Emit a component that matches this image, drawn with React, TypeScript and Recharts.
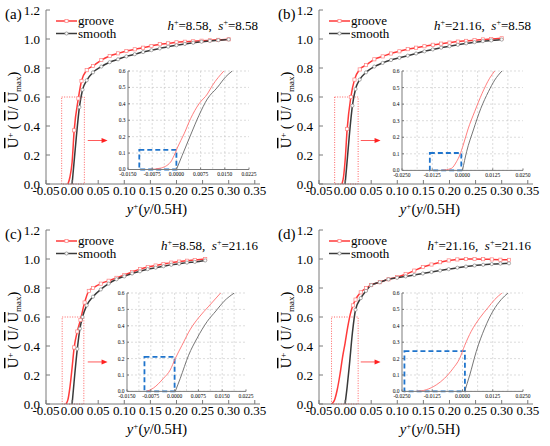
import React from "react";
import {
  LineChart,
  Line,
  XAxis,
  YAxis,
  CartesianGrid,
  ReferenceArea,
  ReferenceLine,
  Legend,
} from "recharts";

const SERIF = "'Liberation Serif', 'Times New Roman', Times, 'DejaVu Serif', serif";

// ticks
const MAIN_X_TICKS = [-0.05, 0, 0.05, 0.1, 0.15, 0.2, 0.25, 0.3, 0.35];
const MAIN_Y_TICKS = [0, 0.2, 0.4, 0.6, 0.8, 1.0, 1.2];
const INSET_Y_TICKS = [0, 0.1, 0.2, 0.3, 0.4, 0.5, 0.6];
const INSET_X_TICKS_NARROW = [-0.015, -0.0075, 0, 0.0075, 0.015, 0.0225];
const INSET_X_TICKS_WIDE = [-0.025, -0.0125, 0, 0.0125, 0.025];
const INSET_GRID_NARROW = [-0.01125, -0.0075, -0.00375, 0, 0.00375, 0.0075, 0.01125, 0.015, 0.01875];
const INSET_GRID_WIDE = [-0.01875, -0.0125, -0.00625, 0, 0.00625, 0.0125, 0.01875];

const PANEL_LABELS = ["(a)", "(b)", "(c)", "(d)"];
const H_PLUS = ["8.58", "21.16", "8.58", "21.16"];
const S_PLUS = ["8.58", "8.58", "21.16", "21.16"];

// main curves, panel (a)
const grooveAx = [-0.008, -0.004, 0.0, 0.004, 0.012, 0.018, 0.028, 0.04, 0.056, 0.072, 0.088, 0.104, 0.12, 0.136, 0.152, 0.168, 0.184, 0.2, 0.216, 0.232, 0.248, 0.264, 0.28, 0.3];
const grooveAy = [0, 0.05, 0.15, 0.37, 0.59, 0.71, 0.785, 0.814, 0.855, 0.883, 0.901, 0.917, 0.929, 0.94, 0.952, 0.964, 0.97, 0.977, 0.981, 0.984, 0.988, 0.991, 0.994, 0.998];
const smoothAx = [0.0, 0.003, 0.008, 0.014, 0.02, 0.028, 0.04, 0.056, 0.072, 0.088, 0.104, 0.12, 0.136, 0.152, 0.168, 0.184, 0.2, 0.216, 0.232, 0.248, 0.264, 0.28, 0.3];
const smoothAy = [0, 0.12, 0.32, 0.53, 0.65, 0.715, 0.77, 0.81, 0.84, 0.86, 0.88, 0.895, 0.91, 0.923, 0.935, 0.947, 0.957, 0.966, 0.974, 0.981, 0.987, 0.992, 0.997];

// panel (b)
const grooveBx = [-0.006, -0.003, 0.0, 0.004, 0.011, 0.018, 0.028, 0.04, 0.056, 0.072, 0.088, 0.104, 0.12, 0.136, 0.152, 0.168, 0.184, 0.2, 0.216, 0.232, 0.248, 0.264, 0.28, 0.3];
const grooveBy = [0, 0.05, 0.16, 0.38, 0.6, 0.72, 0.79, 0.82, 0.86, 0.88, 0.9, 0.915, 0.93, 0.94, 0.95, 0.96, 0.968, 0.975, 0.982, 0.987, 0.992, 0.997, 1.0, 1.005];
const smoothBx = [0.0, 0.003, 0.008, 0.014, 0.02, 0.028, 0.04, 0.056, 0.072, 0.088, 0.104, 0.12, 0.136, 0.152, 0.168, 0.184, 0.2, 0.216, 0.232, 0.248, 0.264, 0.28, 0.3];
const smoothBy = [0, 0.12, 0.33, 0.54, 0.655, 0.72, 0.77, 0.81, 0.835, 0.855, 0.87, 0.885, 0.9, 0.915, 0.928, 0.94, 0.95, 0.96, 0.97, 0.978, 0.985, 0.99, 0.996];

// panel (c)
const grooveCx = [-0.012, -0.008, -0.004, 0.0, 0.004, 0.01, 0.016, 0.024, 0.032, 0.04, 0.055, 0.07, 0.085, 0.1, 0.115, 0.13, 0.145, 0.16, 0.175, 0.19, 0.205, 0.22, 0.235, 0.255];
const grooveCy = [0, 0.03, 0.12, 0.25, 0.39, 0.5, 0.58, 0.7, 0.78, 0.8, 0.83, 0.85, 0.87, 0.89, 0.91, 0.93, 0.945, 0.955, 0.965, 0.975, 0.982, 0.988, 0.993, 1.0];
const smoothCx = [0.0, 0.005, 0.01, 0.015, 0.02, 0.028, 0.04, 0.055, 0.07, 0.085, 0.1, 0.115, 0.13, 0.145, 0.16, 0.175, 0.19, 0.205, 0.22, 0.235, 0.255];
const smoothCy = [0, 0.2, 0.38, 0.52, 0.6, 0.68, 0.74, 0.79, 0.83, 0.86, 0.88, 0.9, 0.915, 0.93, 0.94, 0.95, 0.96, 0.967, 0.975, 0.98, 0.99];

// panel (d)
const grooveDx = [-0.026, -0.02, -0.015, -0.01, -0.005, 0.0, 0.005, 0.01, 0.015, 0.02, 0.03, 0.04, 0.05, 0.0665, 0.083, 0.0995, 0.116, 0.1325, 0.149, 0.1655, 0.182, 0.1985, 0.215, 0.2315, 0.248, 0.2645, 0.281, 0.2975, 0.314];
const grooveDy = [0, 0.03, 0.1, 0.2, 0.32, 0.42, 0.53, 0.62, 0.68, 0.72, 0.77, 0.8, 0.82, 0.84, 0.86, 0.875, 0.895, 0.92, 0.945, 0.962, 0.978, 0.99, 0.997, 1.0, 1.0, 0.999, 0.997, 0.995, 0.994];
const smoothDx = [0.0, 0.004, 0.008, 0.014, 0.02, 0.03, 0.04, 0.05, 0.0665, 0.083, 0.0995, 0.116, 0.1325, 0.149, 0.1655, 0.182, 0.1985, 0.215, 0.2315, 0.248, 0.2645, 0.281, 0.2975, 0.314];
const smoothDy = [0, 0.12, 0.26, 0.49, 0.65, 0.73, 0.78, 0.82, 0.84, 0.86, 0.87, 0.88, 0.89, 0.9, 0.91, 0.92, 0.93, 0.94, 0.948, 0.955, 0.96, 0.965, 0.968, 0.97];

// inset curves
const insetGrooveAx = [-0.0085, -0.005, -0.0018, -0.0007, 0.0004, 0.0024, 0.0044, 0.007, 0.0096, 0.0111, 0.0147];
const insetGrooveAy = [0, 0.008, 0.045, 0.086, 0.137, 0.218, 0.31, 0.4, 0.46, 0.51, 0.6];
const insetSmoothAx = [0.0, 0.0018, 0.0044, 0.007, 0.0096, 0.0127, 0.0153, 0.0173];
const insetSmoothAy = [0, 0.086, 0.21, 0.33, 0.43, 0.5, 0.565, 0.6];

const insetGrooveBx = [-0.0087, -0.0046, -0.0025, -0.0011, 0.0003, 0.0023, 0.005, 0.0081, 0.0112, 0.0133];
const insetGrooveBy = [0, 0.012, 0.052, 0.093, 0.153, 0.25, 0.354, 0.465, 0.556, 0.6];
const insetSmoothBx = [0.0, 0.0017, 0.0045, 0.0076, 0.0107, 0.0133, 0.0163];
const insetSmoothBy = [0, 0.113, 0.244, 0.375, 0.475, 0.545, 0.6];

const insetGrooveCx = [-0.0088, -0.0067, -0.0035, -0.0014, 0.0002, 0.0023, 0.005, 0.0076, 0.0108, 0.0145];
const insetGrooveCy = [0, 0.02, 0.08, 0.13, 0.2, 0.28, 0.38, 0.45, 0.52, 0.6];
const insetSmoothCx = [0.0002, 0.0018, 0.0044, 0.0071, 0.0103, 0.013, 0.0156, 0.0188];
const insetSmoothCy = [0, 0.08, 0.22, 0.325, 0.427, 0.49, 0.55, 0.6];

const insetGrooveDx = [-0.0191, -0.015, -0.0108, -0.0074, -0.0039, -0.0012, 0.0009, 0.0036, 0.0071, 0.0105, 0.0133, 0.0163];
const insetGrooveDy = [0, 0.01, 0.04, 0.08, 0.14, 0.2, 0.28, 0.366, 0.447, 0.51, 0.56, 0.6];
const insetSmoothDx = [0.0009, 0.003, 0.0057, 0.0092, 0.0126, 0.016, 0.0188];
const insetSmoothDy = [0, 0.1, 0.244, 0.386, 0.49, 0.56, 0.6];

// highlighted regions [x1, x2, y1, y2]
const ZOOM_RECTS = [
  [-0.02, 0.0235, 0, 0.6],
  [-0.02, 0.025, 0, 0.6],
  [-0.019, 0.0225, 0, 0.6],
  [-0.026, 0.025, 0, 0.6],
];
const BLUE_BOXES = [
  [-0.0115, 0, 0, 0.12],
  [-0.0135, -0.0005, 0, 0.105],
  [-0.0095, 0, 0, 0.21],
  [-0.024, 0.001, 0, 0.245],
];
const ARROW_X = [0.03, 0.068];
const ARROW_Y = [0.3, 0.3, 0.29, 0.29];

const zip = (xs: number[], ys: number[]) => xs.map((x, i) => ({ x, y: ys[i] }));

const PANELS = [
  { left: 0, top: 0, groove: zip(grooveAx, grooveAy), smooth: zip(smoothAx, smoothAy), iGroove: zip(insetGrooveAx, insetGrooveAy), iSmooth: zip(insetSmoothAx, insetSmoothAy), wide: false, gSkip: 3, sSkip: 3,
    inset: { left: 127.5, top: 71, w: 121, h: 98.5 } },
  { left: 273, top: 0, groove: zip(grooveBx, grooveBy), smooth: zip(smoothBx, smoothBy), iGroove: zip(insetGrooveBx, insetGrooveBy), iSmooth: zip(insetSmoothBx, insetSmoothBy), wide: true, gSkip: 3, sSkip: 3,
    inset: { left: 129.3, top: 71.3, w: 121, h: 99.4 } },
  { left: 0, top: 220, groove: zip(grooveCx, grooveCy), smooth: zip(smoothCx, smoothCy), iGroove: zip(insetGrooveCx, insetGrooveCy), iSmooth: zip(insetSmoothCx, insetSmoothCy), wide: false, gSkip: 4, sSkip: 2,
    inset: { left: 127.3, top: 73.3, w: 119, h: 98.4 } },
  { left: 273, top: 220, groove: zip(grooveDx, grooveDy), smooth: zip(smoothDx, smoothDy), iGroove: zip(insetGrooveDx, insetGrooveDy), iSmooth: zip(insetSmoothDx, insetSmoothDy), wide: true, gSkip: 8, sSkip: 4,
    inset: { left: 129.3, top: 73.3, w: 121, h: 98.4 } },
];

const RED = "#ff3a3a";
const DARK = "#3a3a3a";
const FRAME = "#7a7a7a";

const squareDot = (skip: number) => (p: any) => {
  if (p.index < skip || p.cx == null) return <g key={`gs${p.index}`} />;
  return (
    <rect key={`gs${p.index}`} x={p.cx - 1.6} y={p.cy - 1.6} width={3.2} height={3.2}
      fill="#fff" stroke="#ff8080" strokeWidth={0.7} />
  );
};
const circleDot = (skip: number) => (p: any) => {
  if (p.index < skip || p.cx == null) return <g key={`sc${p.index}`} />;
  return <circle key={`sc${p.index}`} cx={p.cx} cy={p.cy} r={1.6} fill="#fff" stroke="#888" strokeWidth={0.7} />;
};

const arrowShape = (p: any) => {
  const { x1, y1, x2, y2 } = p;
  return (
    <g>
      <line x1={x1} y1={y1} x2={x2 - 5} y2={y2} stroke="#ff5a5a" strokeWidth={1} />
      <polygon points={`${x2},${y2} ${x2 - 6},${y2 - 2.5} ${x2 - 6},${y2 + 2.5}`} fill="#ff2020" />
    </g>
  );
};

const renderLegend = (props: any) => {
  const items = props.payload || [];
  return (
    <svg width={80} height={28} style={{ overflow: "visible", fontFamily: SERIF }}>
      {items.map((it: any, i: number) => {
        const y = 6 + i * 12.5;
        const isGroove = i === 0;
        return (
          <g key={it.value}>
            <line x1={0} y1={y} x2={21} y2={y} stroke={isGroove ? RED : DARK} strokeWidth={1.5} />
            {isGroove ? (
              <rect x={8.9} y={y - 1.6} width={3.2} height={3.2} fill="#fff" stroke="#ff8080" strokeWidth={0.7} />
            ) : (
              <circle cx={10.5} cy={y} r={1.6} fill="#fff" stroke="#888" strokeWidth={0.7} />
            )}
            <text x={22} y={y + 4} style={{ fontFamily: SERIF }} fontSize={13} fill="#000">
              {it.value}
            </text>
          </g>
        );
      })}
    </svg>
  );
};

const mainTick = { fill: "#000", fontSize: 13, style: { fontFamily: SERIF } };
const insetTick = { fill: "#000", fontSize: 5.5, style: { fontFamily: SERIF } };

function Inset({ cfg, idx }: { cfg: any; idx: number }) {
  const b = cfg.inset;
  const xTicks = cfg.wide ? INSET_X_TICKS_WIDE : INSET_X_TICKS_NARROW;
  const xDom = cfg.wide ? [-0.025, 0.025] : [-0.015, 0.0225];
  const box = BLUE_BOXES[idx];
  const yw = 13;
  const rm = 10;
  return (
    <div style={{ position: "absolute", left: b.left - yw, top: b.top - 3 }}>
      <LineChart width={yw + b.w + rm} height={3 + b.h + 11} margin={{ top: 3, right: rm, bottom: 0, left: 0 }}>
        <CartesianGrid stroke="#c4c4c4" strokeDasharray="2 2" strokeWidth={0.6} fill="#fff" fillOpacity={1}
          verticalValues={cfg.wide ? INSET_GRID_WIDE : INSET_GRID_NARROW} horizontalValues={INSET_Y_TICKS} />
        <XAxis type="number" dataKey="x" domain={xDom} ticks={xTicks} allowDataOverflow
          tickFormatter={(v: number) => v.toFixed(4)} stroke={FRAME} tick={insetTick}
          tickSize={-2} tickMargin={4.5} height={11} interval={0} />
        <XAxis xAxisId="top" orientation="top" type="number" domain={xDom} ticks={xTicks}
          stroke={FRAME} tick={false} tickSize={-2} height={0} />
        <YAxis type="number" domain={[0, 0.6]} ticks={INSET_Y_TICKS} allowDataOverflow
          tickFormatter={(v: number) => v.toFixed(1)} stroke={FRAME} tick={insetTick}
          tickSize={-2} tickMargin={4.5} width={yw} interval={0} />
        <YAxis yAxisId="right" orientation="right" type="number" domain={[0, 0.6]} ticks={INSET_Y_TICKS}
          stroke={FRAME} tick={false} tickSize={-2} width={0} />
        <ReferenceArea x1={box[0]} x2={box[1]} y1={box[2]} y2={box[3]} fill="none" fillOpacity={0}
          stroke="#1f74cc" strokeWidth={1.8} strokeDasharray="5 3" />
        <Line data={cfg.iGroove} dataKey="y" type="monotone" stroke="#ff7070" strokeWidth={0.9}
          dot={false} isAnimationActive={false} />
        <Line data={cfg.iSmooth} dataKey="y" type="monotone" stroke="#666" strokeWidth={0.9}
          dot={false} isAnimationActive={false} />
      </LineChart>
    </div>
  );
}

function Panel({ cfg, idx }: { cfg: any; idx: number }) {
  const r = ZOOM_RECTS[idx];
  const xDom = [-0.05, 0.36];
  return (
    <div style={{ position: "absolute", left: cfg.left, top: cfg.top, width: 275, height: 223 }}>
      <LineChart width={275} height={223} margin={{ top: 10, right: 15, bottom: 0, left: 0 }}>
        <XAxis type="number" dataKey="x" domain={xDom} ticks={MAIN_X_TICKS} allowDataOverflow
          tickFormatter={(v: number) => v.toFixed(2)} stroke={FRAME} tick={mainTick}
          tickSize={-4} tickMargin={6} height={39} interval={0} />
        <XAxis xAxisId="top" orientation="top" type="number" domain={xDom} ticks={MAIN_X_TICKS}
          stroke={FRAME} tick={false} tickSize={-4} height={0} />
        <YAxis type="number" domain={[0, 1.2]} ticks={MAIN_Y_TICKS} allowDataOverflow
          tickFormatter={(v: number) => v.toFixed(1)} stroke={FRAME} tick={mainTick}
          tickSize={-4} tickMargin={10} width={46} interval={0} />
        <YAxis yAxisId="right" orientation="right" type="number" domain={[0, 1.2]} ticks={MAIN_Y_TICKS}
          stroke={FRAME} tick={false} tickSize={-4} width={0} />
        <ReferenceArea x1={r[0]} x2={r[1]} y1={r[2]} y2={r[3]} fill="none" fillOpacity={0}
          stroke="#ff5050" strokeWidth={0.9} strokeDasharray="1 1.5" />
        <ReferenceLine segment={[{ x: ARROW_X[0], y: ARROW_Y[idx] }, { x: ARROW_X[1], y: ARROW_Y[idx] }]}
          shape={arrowShape} stroke="#ff5050" />
        <Line name="groove" data={cfg.groove} dataKey="y" type="monotone" stroke={RED} strokeWidth={1.5}
          dot={squareDot(cfg.gSkip)} isAnimationActive={false} />
        <Line name="smooth" data={cfg.smooth} dataKey="y" type="monotone" stroke={DARK} strokeWidth={1.5}
          dot={circleDot(cfg.sSkip)} isAnimationActive={false} />
        <Legend layout="vertical" align="center" verticalAlign="middle" content={renderLegend}
          wrapperStyle={{ left: 56, top: 15, width: 80, height: 28 }} />
      </LineChart>
      <Inset cfg={cfg} idx={idx} />
      <svg width={275} height={223}
        style={{ position: "absolute", left: 0, top: 0, pointerEvents: "none", overflow: "visible", fontFamily: SERIF }}>
        <text x={5} y={19} fontSize={15} fill="#000">{PANEL_LABELS[idx]}</text>
        <text x={258} y={30} fontSize={13} textAnchor="end" fill="#000">
          <tspan fontStyle="italic">h</tspan>
          <tspan dy={-5} fontSize={8}>+</tspan>
          <tspan dy={5}>{`=${H_PLUS[idx]},\u00a0\u00a0`}</tspan>
          <tspan fontStyle="italic">s</tspan>
          <tspan dy={-5} fontSize={8}>+</tspan>
          <tspan dy={5}>{`=${S_PLUS[idx]}`}</tspan>
        </text>
        <text transform="translate(18,110) rotate(-90)" textAnchor="middle" fontSize={14.5} fill="#000">
          <tspan style={{ textDecoration: "overline" }}>U</tspan>
          <tspan dy={-5} fontSize={9}>+</tspan>
          <tspan dy={5}>{"\u00a0(\u00a0"}</tspan>
          <tspan style={{ textDecoration: "overline" }}>U</tspan>
          <tspan>{"/\u00a0"}</tspan>
          <tspan style={{ textDecoration: "overline" }}>U</tspan>
          <tspan dy={3} fontSize={9}>max</tspan>
          <tspan dy={-3}>)</tspan>
        </text>
        <text x={157} y={214} textAnchor="middle" fontSize={14.5} fill="#000">
          <tspan fontStyle="italic">y</tspan>
          <tspan dy={-5} fontSize={9}>+</tspan>
          <tspan dy={5}>(</tspan>
          <tspan fontStyle="italic">y</tspan>
          <tspan>/0.5H)</tspan>
        </text>
      </svg>
    </div>
  );
}

export default function App() {
  return (
    <div style={{ position: "absolute", left: 0, top: 0, width: 550, height: 446, background: "#fff", overflow: "hidden", fontFamily: SERIF }}>
      {PANELS.map((cfg, i) => (
        <Panel key={i} cfg={cfg} idx={i} />
      ))}
    </div>
  );
}
